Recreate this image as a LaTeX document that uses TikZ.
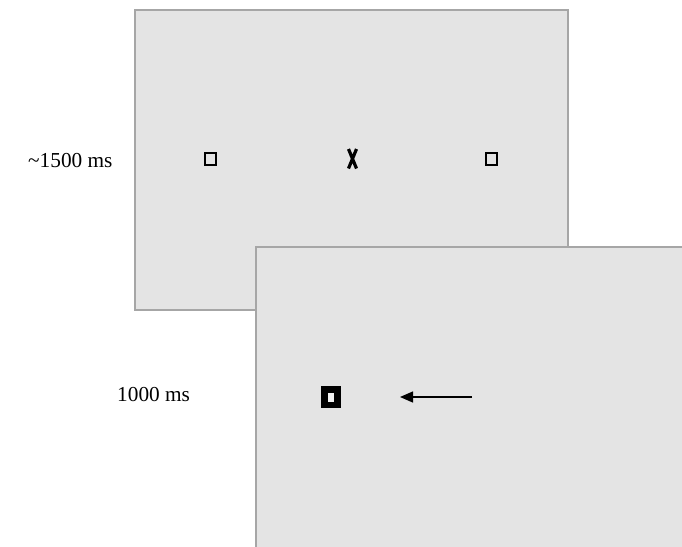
\documentclass[tikz,border=0pt]{standalone}
\usepackage{fontspec}
\setmainfont{Liberation Serif}
\usetikzlibrary{arrows.meta}
\begin{document}
\begin{tikzpicture}[x=1pt,y=-1pt,
  screen/.style={draw=black!35, line width=2pt, fill=black!10.5},
  cue/.style={draw=black, line width=2pt},
  label/.style={anchor=base west, inner sep=0pt, font=\fontsize{21.3}{25}\selectfont}]
\useasboundingbox (0,0) rectangle (682,546);
\begin{scope}
\clip (0,0) rectangle (682,546);
% fixation display
\draw[screen] (135,10) rectangle (568,310);
% target display, overlapping and running off the page
\draw[screen] (256,247) rectangle (700,560);
\end{scope}
% fixation display content
\node[label] (t1) at (28,167) {\textasciitilde 1500 ms};
\draw[cue] (205,153) rectangle (216,165);
\draw[cue] (486,153) rectangle (497,165);
\draw[line width=3.2pt] (348.5,149) -- (356.5,168.5) (356.5,149) -- (348.5,168.5);
% target display content
\node[label] (t2) at (117,401) {1000 ms};
\fill[black] (321,386) rectangle (341,408);
\fill[black!5] (328,393) rectangle (334,402);
\coordinate (tail) at (472,397);
\coordinate (tip) at (400,397);
\draw[line width=1.3pt, -{Triangle[length=13pt,width=11pt]}] (tail) -- (tip);
\end{tikzpicture}
\end{document}
